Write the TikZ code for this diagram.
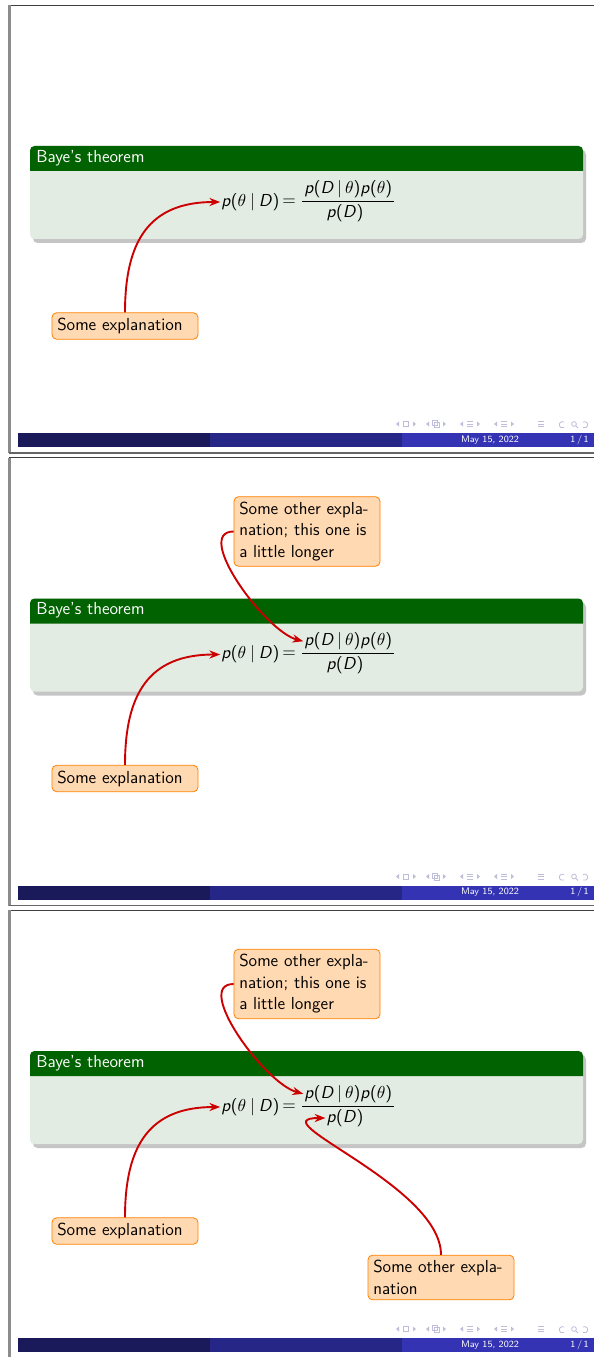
\documentclass[tikz,border=0pt]{standalone}
\usepackage{tikz}
\usetikzlibrary{positioning}
\usetikzlibrary{arrows.meta}
\definecolor{blockgreen}{RGB}{0,98,0}
\definecolor{blockbody}{RGB}{227,236,227}
\definecolor{navdark}{RGB}{26,26,90}
\definecolor{navmid}{RGB}{38,38,134}
\definecolor{navlight}{RGB}{51,51,179}
\definecolor{navsym}{RGB}{190,190,218}
\definecolor{arrowred}{RGB}{204,0,0}
\DeclareSymbolFont{sfslanted}{OT1}{cmss}{m}{sl}
\SetSymbolFont{operators}{normal}{OT1}{cmss}{m}{n}
\DeclareMathSymbol{p}{\mathalpha}{sfslanted}{`p}
\DeclareMathSymbol{D}{\mathalpha}{sfslanted}{`D}

\begin{document}
\begin{tikzpicture}[x=0.2222mm, y=-0.2222mm,
    every node/.style={font=\fontsize{11}{13.6}\selectfont\sffamily},
    expl/.style={draw=orange, fill=orange!30, line width=0.5pt, rounded corners=1mm,
        text width=30.1mm, align=left},
    pointer/.style={arrowred, line width=1.2pt, -{Stealth[length=2.4mm,width=1.8mm]}, shorten >=0.5pt},
    footer/.style={text=white, inner sep=0, font=\fontsize{6}{7}\selectfont\sffamily},
    navicon/.style={navsym, line width=0.5pt},
    eqpart/.style={inner sep=0}]
    \useasboundingbox (0,0) rectangle (594,1357);
    \fill[white] (0,0) rectangle (594,1357);

    \foreach \s in {0,1,2} {
    \begin{scope}[shift={(0,452.5*\s)}]
        % slide frame
        \draw[black!75, line width=0.6pt] (9,5) -- (594,5);
        \draw[black!45, line width=1.4pt] (9.5,5) -- (9.5,453);
        \draw[black!60, line width=0.8pt] (9,453) -- (594,453);

        % footline
        \fill[navdark] (18,433) rectangle (210,447);
        \fill[navmid] (210,433) rectangle (402,447);
        \fill[navlight] (402,433) rectangle (594,447);
        \node[footer] (date\s) at (490,440) {May 15, 2022};
        \node[footer, anchor=east] (page\s) at (589,440) {1\,/\,1};

        % navigation symbols
        \foreach \cx in {406,436,470,504} {
            \fill[navsym] (\cx-10,424) -- (\cx-7,421.5) -- (\cx-7,426.5) -- cycle;
            \fill[navsym] (\cx+10,424) -- (\cx+7,421.5) -- (\cx+7,426.5) -- cycle;
        }
        \draw[navicon] (403.5,421.5) rectangle (408.5,426.5);
        \draw[navicon] (432.5,420.5) rectangle (437.5,425.5) (434.5,422.5) rectangle (439.5,427.5);
        \foreach \cx in {470,504,541}
            \draw[navicon] (\cx-3,421.5) -- (\cx+3,421.5) (\cx-3,424) -- (\cx+3,424) (\cx-3,426.5) -- (\cx+3,426.5);
        \draw[navicon] (564,422) arc[start angle=60, end angle=300, radius=2pt];
        \draw[navicon] (574,424) circle (1.5pt) (576,426) -- (578,428);
        \draw[navicon] (583,422) arc[start angle=120, end angle=-120, radius=2pt];

        % block
        \fill[black!45, opacity=0.5, rounded corners=1mm] (33,150) rectangle (586,243);
        \fill[blockbody, rounded corners=1mm] (30,146) rectangle (583,239);
        \fill[blockgreen] (30,171) [rounded corners=1mm] -- (30,146) -- (583,146) [sharp corners] -- (583,171) -- cycle;
        \node[anchor=west, inner sep=0, text=white] (title\s) at (36,158) {Baye's theorem};

        % the formula
        \node[eqpart, anchor=west] (post\s) at (221,202) {$p(\theta\:|\:D)$};
        \node[eqpart, right=1.5pt of post\s] (equals\s) {$=$};
        \node[eqpart, anchor=west] (num\s) at (304,189) {$p(D\,|\,\theta)p(\theta)$};
        \node[eqpart] (den\s) at (345,213) {$p(D)$};
        \draw[line width=0.4pt] ([shift={(-1pt,-2pt)}]num\s.south west) -- ([shift={(1pt,-2pt)}]num\s.south east);

        \node[expl] (expl\s) at (125,326) {Some explanation};
        \draw[pointer] (expl\s.north) to[out=90, in=180, looseness=1.25] (post\s.west);

        \ifnum\s>0
            \node[expl] (longer\s) at (307,79) {Some other expla-\\nation; this one is\\a little longer};
            \draw[pointer] (longer\s.west) to[out=180, in=165, looseness=0.8] (num\s.west);
        \fi
        \ifnum\s>1
            \node[expl] (other\s) at (441,372.5) {Some other expla-\\nation};
            \draw[pointer] (other\s.north) to[out=90, in=180] (den\s.west);
        \fi
    \end{scope}
    }
\end{tikzpicture}
\end{document}
